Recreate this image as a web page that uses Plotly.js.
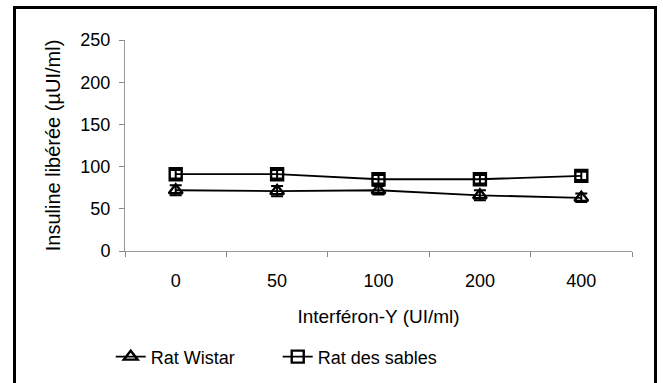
<!DOCTYPE html>
<html>
<head>
<meta charset="utf-8">
<script src="https://cdn.plot.ly/plotly-3.0.1.min.js"></script>
<style>
html,body{margin:0;padding:0;background:#fff;}
#wrap{position:relative;width:663px;height:383px;overflow:hidden;}
#chart{width:663px;height:383px;}
#frame{position:absolute;left:13px;top:6px;width:638px;height:420px;border:3px solid #000;pointer-events:none;}
</style>
</head>
<body>
<div id="wrap"><div id="chart"></div><div id="frame"></div></div>
<script>
const categories = ["0", "50", "100", "200", "400"];
const wistar = [72, 71, 72, 66, 63];
const wistarErr = [6, 6, 5, 6, 5];
const sables = [91, 91, 85, 85, 89];
const sablesErr = [5, 5, 5, 5, 5];
const yTicks = [0, 50, 100, 150, 200, 250];

const font = {family: "Liberation Sans, Arial, sans-serif", color: "#000"};

const traces = [
  {
    x: categories, y: wistar, name: "Rat Wistar", type: "scatter", mode: "lines+markers",
    line: {color: "#000", width: 1.8},
    marker: {symbol: "triangle-up-open", size: 12, color: "#000", line: {width: 2.4, color: "#000"}},
    error_y: {type: "data", array: wistarErr, visible: true, color: "#000", thickness: 2, width: 6}
  },
  {
    x: categories, y: sables, name: "Rat des sables", type: "scatter", mode: "lines+markers",
    line: {color: "#000", width: 1.8},
    marker: {symbol: "square-open", size: 12, color: "#000", line: {width: 2.4, color: "#000"}},
    error_y: {type: "data", array: sablesErr, visible: true, color: "#000", thickness: 2, width: 6}
  }
];

const layout = {
  width: 663, height: 383,
  margin: {l: 125, r: 31, t: 40, b: 132},
  paper_bgcolor: "#fff", plot_bgcolor: "#fff",
  font: Object.assign({size: 18}, font),
  showlegend: true,
  legend: {
    orientation: "h", xref: "container", yref: "container",
    x: 0.167, y: 0.068, xanchor: "left", yanchor: "middle",
    font: Object.assign({size: 18}, font),
    entrywidth: 122, entrywidthmode: "pixels",
    itemwidth: 30,
    bgcolor: "rgba(0,0,0,0)"
  },
  xaxis: {
    type: "category", range: [-0.5, 4.5],
    tickson: "boundaries", ticks: "outside", ticklen: 5, tickcolor: "#888", tickwidth: 1,
    showline: true, linecolor: "#999", linewidth: 1,
    showgrid: false, zeroline: false,
    ticklabelstandoff: 13,
    tickfont: Object.assign({size: 18}, font),
    title: {text: "Interféron-Y (UI/ml)", font: Object.assign({size: 19}, font), standoff: 20}
  },
  yaxis: {
    range: [0, 250], tickvals: yTicks, ticktext: yTicks.map(String),
    ticks: "outside", ticklen: 5, tickcolor: "#888", tickwidth: 1,
    showline: true, linecolor: "#999", linewidth: 1,
    showgrid: false, zeroline: false,
    ticklabelstandoff: 5,
    tickfont: Object.assign({size: 18}, font),
    title: {text: "Insuline libérée (µUI/ml)", font: Object.assign({size: 20}, font), standoff: 14}
  }
};

Plotly.newPlot("chart", traces, layout, {displayModeBar: false, staticPlot: true});
</script>
</body>
</html>
